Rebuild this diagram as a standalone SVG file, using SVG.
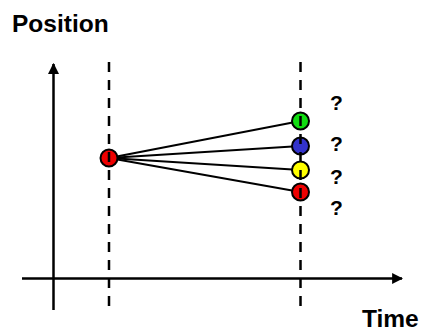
<svg xmlns="http://www.w3.org/2000/svg" width="422" height="332" viewBox="0 0 422 332">
<style>
.lbl{font-family:"Liberation Sans",Arial,sans-serif;font-weight:bold;fill:#000}
.axis{stroke:#000;stroke-width:2.5;fill:none}
.dash{stroke:#000;stroke-width:2.5;stroke-dasharray:10 8;fill:none}
.conn{stroke:#000;stroke-width:2;fill:none}
.dot{stroke:#000;stroke-width:2}
</style>
<defs>
<marker id="ah" viewBox="0 0 10 10" refX="9" refY="5" markerWidth="4.4" markerHeight="4.4" orient="auto" markerUnits="strokeWidth">
<path d="M0,0 L10,5 L0,10 z" fill="#000"/>
</marker>
</defs>
<rect width="422" height="332" fill="#fff"/>
<g id="axes">
<line class="axis" x1="53.5" y1="310" x2="53.5" y2="64" marker-end="url(#ah)"/>
<line class="axis" x1="22" y1="278.5" x2="402" y2="278.5" marker-end="url(#ah)"/>
</g>
<text class="lbl" x="12" y="32" font-size="24.5">Position</text>
<text class="lbl" x="362" y="327" font-size="24.5">Time</text>
<g id="connectors">
<line class="conn" x1="109" y1="158" x2="300.5" y2="121"/>
<line class="conn" x1="109" y1="158" x2="300.5" y2="146"/>
<line class="conn" x1="109" y1="158" x2="300.5" y2="170"/>
<line class="conn" x1="109" y1="158" x2="300.5" y2="192"/>
</g>
<g id="start"><circle class="dot" cx="109" cy="158" r="8.5" fill="#ee0000"/></g>
<g id="green"><circle class="dot" cx="300.5" cy="121" r="8.5" fill="#11dd11"/></g>
<g id="blue"><circle class="dot" cx="300.5" cy="146" r="8.5" fill="#3333cc"/></g>
<g id="yellow"><circle class="dot" cx="300.5" cy="170" r="8.5" fill="#ffff00"/></g>
<g id="red"><circle class="dot" cx="300.5" cy="192" r="8.5" fill="#ee0000"/></g>
<g id="timelines">
<line class="dash" x1="109" y1="62" x2="109" y2="307"/>
<line class="dash" x1="300.5" y1="62" x2="300.5" y2="307"/>
</g>
<g id="questions" font-size="21">
<text class="lbl" x="330" y="110">?</text>
<text class="lbl" x="330" y="151">?</text>
<text class="lbl" x="330" y="184">?</text>
<text class="lbl" x="330" y="215">?</text>
</g>
</svg>
